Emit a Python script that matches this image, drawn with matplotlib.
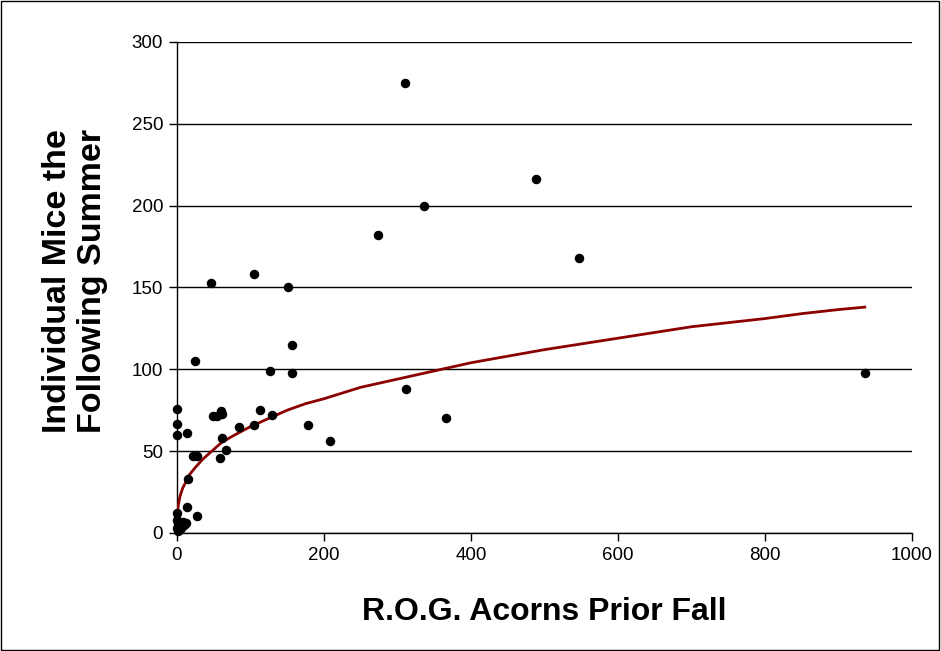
import matplotlib.pyplot as plt
import numpy as np

plt.rcParams['font.family'] = ['Liberation Sans', 'DejaVu Sans']

# scatter points (acorns, mice)
acorns = [310, 488, 336, 273, 547, 46, 105, 151, 157, 157, 126, 25, 936,
          312, 366, 179, 208, 130, 113, 84, 105, 49, 54, 60, 61, 62, 67, 58,
          22, 27, 14, 0, 0, 0, 15, 14, 27,
          0, 0, 2, 5, 0, 8, 10, 12, 1, 3]
mice = [275, 216, 200, 182, 168, 153, 158, 150, 115, 98, 99, 105, 98,
        88, 70, 66, 56, 72, 75, 65, 66, 71.5, 71.5, 74.5, 73, 58, 50.5, 46,
        47, 47, 61, 76, 66.5, 60, 33, 16, 10.5,
        12, 8, 6, 3, 3, 7, 5, 6, 1, 5]

# trend curve, points
curve_x = [0.02, 0.2, 0.5, 1, 2, 3, 4, 6, 8, 12, 16, 25, 35, 50, 60, 75,
           100, 125, 150, 175, 200, 250, 300, 350, 400, 450, 500, 550, 600,
           650, 700, 750, 800, 850, 900, 936]
curve_y = [3.5, 8, 11, 13.7, 17, 19.5, 22, 25, 27.5, 31, 35, 40, 45, 51,
           55, 59, 65, 70, 75, 79, 82, 89, 94, 99, 104, 108, 112, 115.5, 119,
           122.5, 126, 128.5, 131, 134, 136.5, 138]

fig = plt.figure(figsize=(9.41, 6.51), dpi=100)
ax = fig.add_axes([0.188, 0.1813, 0.781, 0.7542])

ax.plot(curve_x, curve_y, color='#8B0000', lw=2, zorder=3)
ax.scatter(acorns, mice, s=34, color='black', zorder=4, clip_on=False)

ax.set_xlim(0, 1000)
ax.set_ylim(0, 300)
ax.set_xticks(np.arange(0, 1001, 200))
ax.set_yticks(np.arange(0, 301, 50))
ax.yaxis.grid(True, color='black', lw=1)
ax.set_axisbelow(True)
for s in ['top', 'right']:
    ax.spines[s].set_visible(False)
ax.spines['left'].set_linewidth(1)
ax.spines['bottom'].set_linewidth(1)
ax.tick_params(direction='out', length=6, width=1, labelsize=13.5, pad=4)

ax.set_xlabel('R.O.G. Acorns Prior Fall', fontsize=23, fontweight='bold', labelpad=24)
ax.set_ylabel('Individual Mice the\nFollowing Summer', fontsize=24.5,
              fontweight='bold', labelpad=17, linespacing=1.15)
ax.yaxis.label.set_y(0.513)

# outer frame around the chart
fig.patches.append(plt.Rectangle((0.001, 0.002), 0.997, 0.996, transform=fig.transFigure,
                                 fill=False, edgecolor='black', lw=1))

fig.savefig('out.png', dpi=100)
